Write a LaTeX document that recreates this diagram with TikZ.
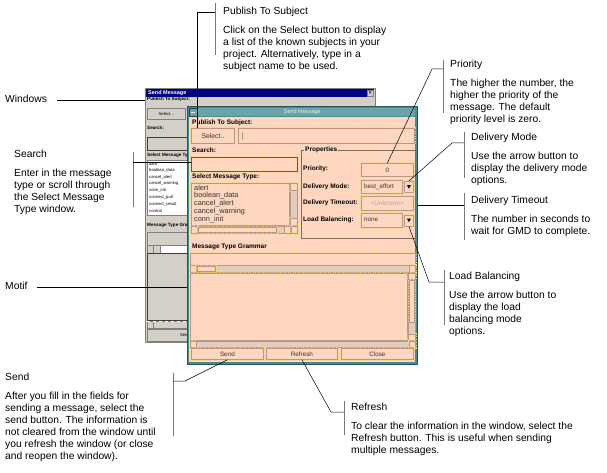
\documentclass[tikz,border=0pt]{standalone}
\usepackage{fontspec}
\setmainfont{Liberation Sans}
\usetikzlibrary{positioning,calc}

\definecolor{wingray}{RGB}{212,208,200}
\definecolor{winnavy}{RGB}{0,0,128}
\definecolor{winshade}{RGB}{128,128,128}
\definecolor{motifteal}{RGB}{70,140,148}
\definecolor{motifbar}{RGB}{104,164,170}
\definecolor{peach}{RGB}{255,214,192}
\definecolor{peachdark}{RGB}{226,204,192}
\definecolor{fieldedge}{RGB}{184,152,128}
\definecolor{fielddeep}{RGB}{110,84,66}
\definecolor{dashy}{RGB}{236,220,110}
\definecolor{brkgray}{RGB}{120,120,120}

\begin{document}
\begin{tikzpicture}[x=1pt,y=-1pt,inner sep=0pt]

  \tikzstyle{head}=[anchor=west,font=\fontsize{10.3}{12}\selectfont,text height=7.5pt,text depth=2pt]
  \tikzstyle{body}=[align=left,font=\fontsize{10.3}{12}\selectfont]
  \tikzstyle{brk}=[draw=brkgray,line width=0.8pt]
  \tikzstyle{lead}=[draw=black,line width=0.5pt]
  \tikzstyle{wpane}=[anchor=north west,draw=winshade,fill=wingray,line width=0.5pt]
  \tikzstyle{wlabel}=[anchor=west,font=\fontsize{4.6}{5}\selectfont\bfseries]
  \tikzstyle{wtext}=[font=\fontsize{4.2}{5}\selectfont]
  \tikzstyle{field}=[anchor=north west,draw=fieldedge,fill=peach,line width=0.8pt,
                     preaction={draw=dashy,dash pattern=on 1pt off 1.5pt,line width=2.2pt}]
  \tikzstyle{trough}=[anchor=north west,draw=fieldedge,fill=peachdark,line width=0.5pt]
  \tikzstyle{mlabel}=[anchor=west,font=\fontsize{6.5}{7}\selectfont\bfseries]
  \tikzstyle{mtext}=[font=\fontsize{6.3}{7}\selectfont,text=black!80]
  \tikzstyle{mitem}=[anchor=west,font=\fontsize{7.3}{8}\selectfont,text=black!80]

  \useasboundingbox (0,0) rectangle (607,473);

  % windows look, behind
  \node[wpane,minimum width=230,minimum height=254] (bwin) at (145,88) {};
  \node[anchor=north west,fill=winnavy,minimum width=228,minimum height=8] (bbar) at (146,89) {};
  \node[wlabel,text=white,font=\fontsize{5.5}{6}\selectfont\bfseries] (btitle) at (148,93) {Send Message};
  \node[wpane,minimum width=6,minimum height=6,font=\fontsize{5}{5}\selectfont\bfseries] (bclose) at (367,90) {×};
  \node[wlabel] (bpub) at (147,99) {Publish To Subject:};
  \node[wpane,minimum width=38,minimum height=11,wtext] (bsel) at (147,108) {Select...};
  \node[wlabel] (bsearch) at (147,128) {Search:};
  \node[wpane,draw=black!75,minimum width=45,minimum height=13] (bsrch) at (147,137) {};
  \node[wlabel] (bselmsg) at (147,155) {Select Message Type:};
  \node[wpane,fill=white,minimum width=45,minimum height=55] (blist) at (147,160) {};
  \foreach \t [count=\i from 0] in {alert,boolean\_data,cancel\_alert,cancel\_warning,conn\_init,connect\_pull,connect\_result,control}
    \node[wtext,anchor=west] (bitem\i) at (149,163.5+6.8*\i) {\t};
  \node[wlabel] (bgramlbl) at (147,225) {Message Type Grammar};
  \node[wpane,minimum width=45,minimum height=13] (bgram) at (147,232) {};
  \node[wpane,fill=white,minimum width=45,minimum height=8] (bhs) at (147,245) {};
  \node[wpane,minimum width=6,minimum height=8] (bhsl) at (147,245) {};
  \node[wpane,minimum width=7,minimum height=8] (bhst) at (153,245) {};
  \node[wpane,draw=black!75,minimum width=45,minimum height=67] (bbig) at (147,253) {};
  \node[wpane,minimum width=45,minimum height=7] (bhs2) at (147,321) {};
  \node[wpane,minimum width=6,minimum height=7] (bhs2l) at (147,321) {};
  \draw[white,dashed,line width=0.6pt] (bhs2.north west) -- (bhs2.north east);
  \node[wpane,minimum width=80,minimum height=12] (bsend) at (147,329) {};
  \node[wtext] (bsendt) at (185,335) {Send};

  % motif look, in front
  \node[anchor=north west,fill=motifteal,draw=motifteal!60!black,line width=0.5pt,minimum width=230,minimum height=258] (fwin) at (187,106) {};
  \node[anchor=north west,fill=motifbar,minimum width=226,minimum height=8] (fbar) at (189,108) {};
  \node[text=white!85!motifbar,font=\fontsize{5.5}{6}\selectfont] (ftitle) at (fbar.center) {Send Message};
  \node[anchor=north west,draw=motifteal!50!black,fill=motifbar,line width=0.4pt,minimum width=8,minimum height=8] (fmenu) at (189,108) {};
  \draw[white!80!motifbar,line width=1pt] ([xshift=-2pt]fmenu.center) -- ([xshift=2pt]fmenu.center);
  \node[anchor=north west,fill=peach,minimum width=226,minimum height=245] (fbody) at (189,117) {};

  \node[mlabel] (fPubT) at (192,123) {Publish To Subject:};
  \node[field,minimum width=43,minimum height=15,font=\fontsize{6.8}{7}\selectfont,text=black!80] (fSel) at (191,128) {Select..};
  \node[field,minimum width=176,minimum height=15] (fSubj) at (238,128) {};
  \draw[fieldedge,line width=0.5pt] ([xshift=4pt,yshift=-4pt]fSubj.north west) -- ([xshift=4pt,yshift=4pt]fSubj.south west);

  \node[mlabel] (fSrchT) at (192,150) {Search:};
  \node[field,draw=fielddeep,line width=1.1pt,minimum width=106,minimum height=14] (fSrch) at (191,157) {};

  \node[mlabel] (fListT) at (192,177) {Select Message Type:};
  \node[field,minimum width=98,minimum height=42] (fList) at (191,183) {};
  \foreach \t [count=\i from 0] in {alert,boolean\_data,cancel\_alert,cancel\_warning,conn\_init}
    \node[mitem] (fitem\i) at (194,188+8*\i) {\t};
  \node[trough,minimum width=7,minimum height=42] (fVs) at (290,183) {};
  \node[field,minimum width=7,minimum height=7] (fVsU) at (290,183) {};
  \node[field,minimum width=7,minimum height=7] (fVsD) at (290,218) {};
  \node[trough,minimum width=106,minimum height=7] (fHs) at (191,226) {};
  \node[field,minimum width=6,minimum height=7] (fHsL) at (191,226) {};
  \node[field,minimum width=78,minimum height=5] (fHsT) at (198,227) {};
  \node[field,minimum width=6,minimum height=7] (fHsR) at (284,226) {};
  \node[field,minimum width=6,minimum height=7] (fHsR2) at (291,226) {};

  \node[anchor=north west,draw=fieldedge!70!black,line width=0.6pt,minimum width=114,minimum height=88] (fProp) at (301,150) {};
  \node[mlabel,fill=peach,inner xsep=1pt] (fPropT) at (304,150) {Properties};
  \node[mlabel] (fPrioT) at (303,169) {Priority:};
  \node[field,minimum width=52,minimum height=13,mtext] (fPrio) at (361,163) {0};
  \node[mlabel] (fDmT) at (303,187) {Delivery Mode:};
  \node[field,minimum width=41,minimum height=13] (fDm) at (361,180) {};
  \node[mtext,anchor=west] (fDmV) at (364,186.5) {best\_effort};
  \node[field,minimum width=9,minimum height=11] (fDmA) at (404,181) {};
  \fill ($(fDmA.center)+(-2,-1.8)$) -- ++(4,0) -- ++(-2,3.6) -- cycle;
  \node[mlabel] (fDtT) at (303,203) {Delivery Timeout:};
  \node[field,minimum width=52,minimum height=14,mtext,text=black!35] (fDt) at (361,196) {<Unknown>};
  \node[mlabel] (fLbT) at (303,220) {Load Balancing:};
  \node[field,minimum width=41,minimum height=14] (fLb) at (361,213) {};
  \node[mtext,anchor=west] (fLbV) at (364,220) {none};
  \node[field,minimum width=9,minimum height=11] (fLbA) at (404,214.5) {};
  \fill ($(fLbA.center)+(-2,-1.8)$) -- ++(4,0) -- ++(-2,3.6) -- cycle;

  \node[mlabel] (fGramT) at (192,247) {Message Type Grammar};
  \node[field,minimum width=225,minimum height=12] (fGram) at (190,253) {};
  \node[trough,minimum width=225,minimum height=7] (fHs2) at (190,265) {};
  \node[field,minimum width=6,minimum height=7] (fHs2L) at (190,265) {};
  \node[field,minimum width=18,minimum height=5] (fHs2T) at (197,266) {};
  \node[field,minimum width=6,minimum height=7] (fHs2R) at (409,265) {};
  \node[field,minimum width=217,minimum height=67] (fText) at (190,273) {};
  \node[trough,minimum width=7,minimum height=67] (fVs2) at (408,273) {};
  \node[field,minimum width=7,minimum height=6] (fVs2U) at (408,273) {};
  \node[field,minimum width=5,minimum height=42] (fVs2T) at (409,280) {};
  \node[field,minimum width=7,minimum height=6] (fVs2D) at (408,334) {};
  \node[trough,minimum width=225,minimum height=6] (fHs3) at (190,341) {};
  \node[field,minimum width=6,minimum height=6] (fHs3L) at (190,341) {};
  \node[field,minimum width=6,minimum height=6] (fHs3R) at (409,341) {};

  \node[field,minimum width=72,minimum height=11,mtext] (fSend) at (191,348) {Send};
  \node[field,minimum width=71,minimum height=11,mtext] (fRef) at (266,348) {Refresh};
  \node[field,minimum width=72,minimum height=11,mtext] (fClose) at (341,348) {Close};

  % callouts
  \node[head] (winT) at (5,100) {Windows};
  \draw[lead] ([xshift=10pt]winT.east) -- (winT.east -| bwin.west);

  \node[head] (pubT) at (223,12) {Publish To Subject};
  \node[body,below=8.5pt of pubT.south west,anchor=north west] (pubB) {Click on the Select button to display\\a list of the known subjects in your\\project. Alternatively, type in a\\subject name to be used.};
  \draw[brk] (215,3) -- (215,55);
  \coordinate (pubK) at (215,12);
  \draw[lead] (pubK) -| ([xshift=6pt]fSel.north west);

  \node[head] (srchT) at (14,155) {Search};
  \node[body,below=8.5pt of srchT.south west,anchor=north west] (srchB) {Enter in the message\\type or scroll through\\the Select Message\\Type window.};
  \draw[brk] (133,152) -- (133,207);
  \coordinate (srchK) at (133,162);
  \draw[lead] (srchK) -- (srchK -| fSrch.west);

  \node[head] (prioT) at (450,65) {Priority};
  \node[body,below=8.5pt of prioT.south west,anchor=north west] (prioB) {The higher the number, the\\higher the priority of the\\message. The default\\priority level is zero.};
  \draw[brk] (443,60) -- (443,113);
  \coordinate (prioK) at (443,69);
  \draw[lead] (prioK) -- ++(-11,0) -- (fPrio.north);

  \node[head] (dmT) at (471,138) {Delivery Mode};
  \node[body,below=8.5pt of dmT.south west,anchor=north west] (dmB) {Use the arrow button to\\display the delivery mode\\options.};
  \draw[brk] (464,132) -- (464,178);
  \coordinate (dmK) at (464,143);
  \draw[lead] (dmK) -- ++(-12,0) -- (fDmA.north);

  \node[head] (dtT) at (471,201) {Delivery Timeout};
  \node[body,below=8.5pt of dtT.south west,anchor=north west] (dtB) {The number in seconds to\\wait for GMD to complete.};
  \draw[brk] (464,193) -- (464,240);
  \coordinate (dtK) at (464,205);
  \draw[lead] (dtK) -- (dtK -| fwin.east);

  \node[head] (lbT) at (449,277) {Load Balancing};
  \node[body,below=8.5pt of lbT.south west,anchor=north west] (lbB) {Use the arrow button to\\display the load\\balancing mode\\options.};
  \draw[brk] (444,270) -- (444,325);
  \coordinate (lbK) at (444,282);
  \draw[lead] (lbK) -- ++(-15,0) -- (fLbA.south);

  \node[head] (motT) at (5,287) {Motif};
  \draw[lead] ([xshift=9pt]motT.east) -- (motT.east -| fwin.west);

  \node[head] (sendT) at (5,378) {Send};
  \node[body,below=8.5pt of sendT.south west,anchor=north west] (sendB) {After you fill in the fields for\\sending a message, select the\\send button. The information is\\not cleared from the window until\\you refresh the window (or close\\and reopen the window).};
  \draw[brk] (173,373) -- (173,436);
  \coordinate (sendK) at (173,381);
  \draw[lead] (sendK) -- ++(12,0) -- (fSend.south);

  \node[head] (refT) at (351,408) {Refresh};
  \node[body,below=8.5pt of refT.south west,anchor=north west] (refB) {To clear the information in the window, select the\\Refresh button. This is useful when sending\\multiple messages.};
  \draw[brk] (344,401) -- (344,435);
  \coordinate (refK) at (344,412);
  \draw[lead] (refK) -- ++(-13,0) -- (fRef.south);

\end{tikzpicture}
\end{document}
